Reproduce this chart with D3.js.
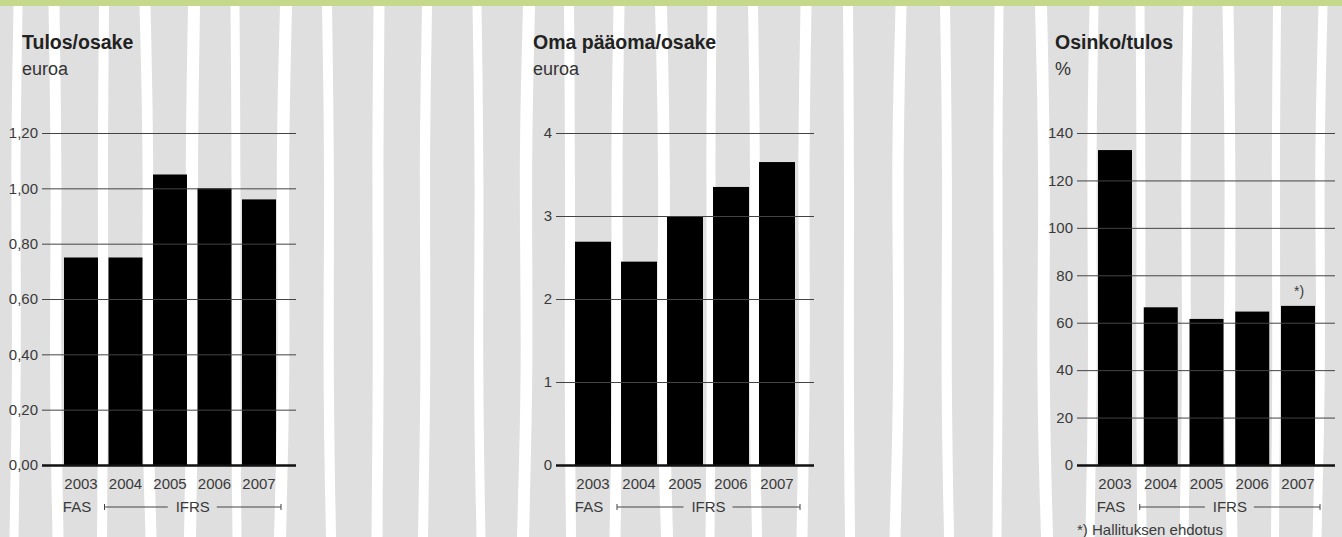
<!DOCTYPE html>
<html>
<head>
<meta charset="utf-8">
<script src="https://cdn.jsdelivr.net/npm/d3@7"></script>
<style>
  html, body { margin: 0; padding: 0; background: #dfdfdf; }
  svg { display: block; }
  text { font-family: "Liberation Sans", Arial, Helvetica, sans-serif; }
</style>
</head>
<body>
<svg id="chart" width="1342" height="537"></svg>
<script>
// ---------- DATA ----------
const years = ["2003", "2004", "2005", "2006", "2007"];
const epsValues = [0.75, 0.75, 1.05, 1.00, 0.96];          // Tulos/osake, euroa
const equityValues = [2.69, 2.45, 3.00, 3.35, 3.65];       // Oma pääoma/osake, euroa
const payoutValues = [132.8, 66.5, 61.6, 64.7, 67.1];      // Osinko/tulos, %
const epsTicks = [0, 0.2, 0.4, 0.6, 0.8, 1.0, 1.2];
const equityTicks = [0, 1, 2, 3, 4];
const payoutTicks = [0, 20, 40, 60, 80, 100, 120, 140];
const titles = ["Tulos/osake", "Oma pääoma/osake", "Osinko/tulos"];
const units = ["euroa", "euroa", "%"];
const standardLabels = ["FAS", "IFRS"];
const footnote = "*) Hallituksen ehdotus";
const footMarker = "*)";
// decorative background stripe centres
const stripeCenters = [16, 56, 103, 148, 192, 236, 283, 329, 378, 425, 479, 526, 570, 617, 664,
                       711, 755, 804, 849, 898, 947, 998, 1044, 1092, 1141, 1186, 1230, 1276, 1320];

// ---------- DRAW ----------
const svg = d3.select("#chart");
const W = 1342, H = 537;

svg.append("rect").attr("width", W).attr("height", H).attr("fill", "#dfdfdf");

// wavy white stripes
const wob = [2, -2, 1, -3, 2, -1, 3, -2, 1, 2, -2, 3, -1, 2, -3, 1, -2, 2, -1, 3, -2, 1, -3, 2, -1, 2, -2, 1, 3];
const wid = [9, 11, 10, 11, 12, 9, 12, 10, 11, 10, 9, 12, 10, 11, 12, 9, 10, 11, 10, 11, 10, 9, 12, 9, 9, 9, 11, 8, 9];
const line = d3.line().curve(d3.curveBasis);
stripeCenters.forEach((c, i) => {
  const w = wid[i], d = wob[i];
  const left = [[c - w/2 + d, 6], [c - w/2 - d*0.5, 180], [c - w/2 + d*0.7, 360], [c - w/2 - d, 537]];
  const right = [[c + w/2 - d, 537], [c + w/2 + d*0.5, 360], [c + w/2 - d*0.3, 180], [c + w/2 + d, 6]];
  svg.append("path")
    .attr("d", line(left) + "L" + line(right).slice(1) + "Z")
    .attr("fill", "#ffffff");
});

// top green band
svg.append("rect").attr("x", 0).attr("y", 0).attr("width", W).attr("height", 6).attr("fill", "#c4d98a");

const yTop = 133, yZero = 465;

const panels = [
  { values: epsValues, ticks: epsTicks, max: 1.2, fmt: v => d3.format(".2f")(v).replace(".", ","),
    titleX: 22, gridX0: 42, gridX1: 296, barA: 64, barB: 276, bw: 34, marker: false },
  { values: equityValues, ticks: equityTicks, max: 4, fmt: v => String(v),
    titleX: 533, gridX0: 556, gridX1: 814, barA: 575, barB: 795, bw: 36, marker: false },
  { values: payoutValues, ticks: payoutTicks, max: 140, fmt: v => String(v),
    titleX: 1055, gridX0: 1077, gridX1: 1335, barA: 1098, barB: 1315, bw: 34, marker: true }
];

panels.forEach((p, pi) => {
  const g = svg.append("g");
  const y = d3.scaleLinear().domain([0, p.max]).range([yZero, yTop]);
  const step = (p.barB - p.barA - p.bw) / (years.length - 1);
  const x = d3.scaleBand().domain(years).range([p.barA, p.barB]).paddingInner(1 - p.bw / step).paddingOuter(0);

  // title + unit
  g.append("text").attr("x", p.titleX).attr("y", 49).attr("font-size", 19.5).attr("font-weight", "bold")
    .attr("fill", "#222").text(titles[pi]);
  g.append("text").attr("x", p.titleX).attr("y", 75).attr("font-size", 18)
    .attr("fill", "#333").text(units[pi]);

  // bars
  g.selectAll("rect.bar").data(p.values).enter().append("rect")
    .attr("class", "bar")
    .attr("x", (d, i) => x(years[i]))
    .attr("width", x.bandwidth())
    .attr("y", d => y(d))
    .attr("height", d => yZero - y(d))
    .attr("fill", "#000");

  // gridlines + y labels
  const axis = d3.axisLeft(y).tickValues(p.ticks).tickFormat(p.fmt)
    .tickSize(-(p.gridX1 - p.gridX0)).tickPadding(4);
  const ag = g.append("g").attr("transform", `translate(${p.gridX0},0)`).call(axis);
  ag.select(".domain").remove();
  ag.selectAll(".tick line").attr("stroke", "#444").attr("stroke-width", 1);
  ag.selectAll(".tick text").attr("font-size", 15).attr("fill", "#3a3a3a")
    .attr("font-family", "'Liberation Sans', Arial, sans-serif");
  ag.selectAll(".tick").filter(d => d === 0).select("line").attr("stroke", "#111").attr("stroke-width", 2.5);

  // year labels
  const xa = d3.axisBottom(x).tickSize(0).tickPadding(0);
  const xg = g.append("g").attr("transform", `translate(0,${yZero})`).call(xa);
  xg.select(".domain").remove();
  xg.selectAll(".tick text").attr("font-size", 15).attr("fill", "#3a3a3a").attr("dy", "1.6em")
    .attr("font-family", "'Liberation Sans', Arial, sans-serif");

  // FAS / IFRS
  const yStd = 507;
  g.append("text").attr("x", x("2003") + x.bandwidth() / 2 - 4).attr("y", yStd + 5)
    .attr("text-anchor", "middle").attr("font-size", 15).attr("fill", "#3a3a3a").text(standardLabels[0]);
  const bx0 = x("2004") - 4, bx1 = x("2007") + x.bandwidth() + 5, bc = (bx0 + bx1) / 2;
  g.append("text").attr("x", bc).attr("y", yStd + 5).attr("text-anchor", "middle")
    .attr("font-size", 15).attr("fill", "#3a3a3a").text(standardLabels[1]);
  [[bx0, bc - 25], [bc + 24, bx1]].forEach(s => {
    g.append("line").attr("x1", s[0]).attr("x2", s[1]).attr("y1", yStd).attr("y2", yStd)
      .attr("stroke", "#444").attr("stroke-width", 1);
  });
  [bx0, bx1].forEach(bxx => {
    g.append("line").attr("x1", bxx).attr("x2", bxx).attr("y1", yStd - 3).attr("y2", yStd + 3)
      .attr("stroke", "#444").attr("stroke-width", 1);
  });

  if (p.marker) {
    const last = years.length - 1;
    g.append("text").attr("x", x(years[last]) + x.bandwidth() / 2 + 1).attr("y", y(p.values[last]) - 10)
      .attr("text-anchor", "middle").attr("font-size", 14).attr("fill", "#3a3a3a").text(footMarker);
    g.append("text").attr("x", p.gridX0).attr("y", 535).attr("font-size", 15).attr("fill", "#3a3a3a").text(footnote);
  }
});
</script>
</body>
</html>
